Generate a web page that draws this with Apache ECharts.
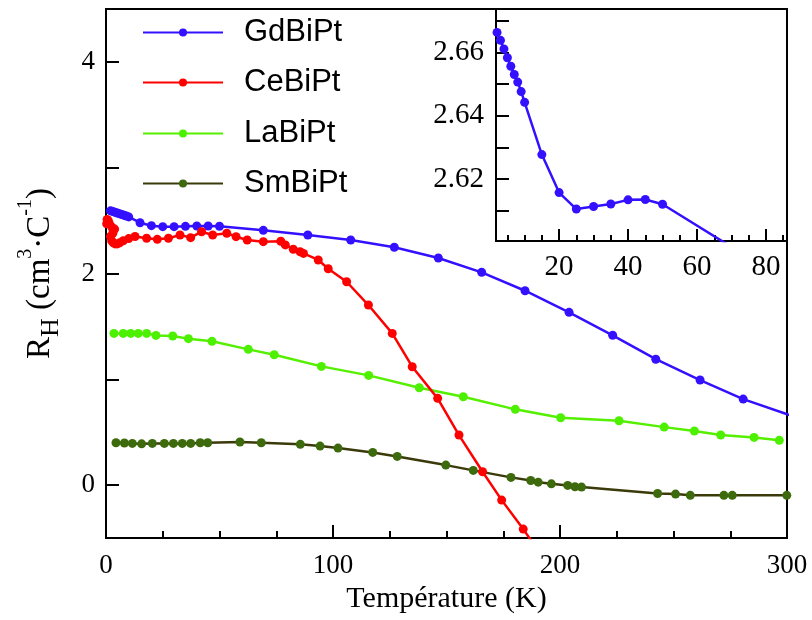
<!DOCTYPE html>
<html><head><meta charset="utf-8">
<script src="https://cdn.jsdelivr.net/npm/echarts@6/dist/echarts.min.js"></script>
<style>html,body{margin:0;padding:0;background:#fff}#c{width:812px;height:620px}</style>
</head><body><div id="c"></div>
<script>
// ---- data ----
const seriesNames = ['GdBiPt', 'CeBiPt', 'LaBiPt', 'SmBiPt'];
const gdT = [2,3,4,5,6,7,8,9,10,15,20,25,30,35,40,45,50,69.3,88.9,107.8,127,146.4,165.5,184.6,204,223.2,242.2,261.7,280.7,302];
const gdR = [2.592,2.585,2.578,2.571,2.564,2.557,2.550,2.543,2.535,2.480,2.452,2.443,2.443,2.446,2.449,2.449,2.447,2.408,2.364,2.317,2.248,2.147,2.011,1.837,1.633,1.416,1.190,0.993,0.813,0.656];
const ceT = [0.3,0.5,1.0,1.5,2.5,3.8,3.0,2.0,2.5,3.2,4.0,5,6,7.6,10,12.8,17.9,22.6,27.5,32.6,37.3,42.1,47,53.2,57.3,62.2,69.3,77,79,82.5,85.5,87,93.5,97.9,106,115.6,126.1,134.9,146.1,155.5,165.9,174.3,183.8,193];
const ceR = [2.47,2.51,2.50,2.47,2.44,2.42,2.38,2.35,2.31,2.29,2.28,2.28,2.29,2.31,2.33,2.35,2.333,2.323,2.333,2.364,2.339,2.395,2.364,2.38,2.348,2.317,2.301,2.305,2.27,2.229,2.206,2.19,2.128,2.045,1.922,1.702,1.434,1.119,0.82,0.473,0.126,-0.142,-0.416,-0.70];
const laT = [3.5,7.6,10.9,14.2,17.9,22,29.4,36.3,46.7,62.7,74.1,94.9,115.7,138,157.4,180.3,200.3,226,245.9,259.2,270.8,285.5,296.6];
const laR = [1.434,1.434,1.434,1.434,1.434,1.415,1.409,1.384,1.359,1.283,1.232,1.122,1.037,0.92,0.835,0.716,0.637,0.608,0.548,0.511,0.473,0.451,0.423];
const smT = [4.4,8.1,11.6,15.7,20.4,25.7,29.7,33.6,37.3,41.5,44.8,59,68.4,85.6,94.3,102.2,117.5,128.3,149.7,161.8,178.4,187.1,190.4,196.2,203.4,206.6,209.5,243,250.9,257.4,272.2,275.9,299.9];
const smR = [0.40,0.398,0.394,0.39,0.394,0.394,0.394,0.394,0.394,0.40,0.40,0.407,0.40,0.385,0.369,0.35,0.309,0.271,0.189,0.139,0.073,0.044,0.028,0.012,-0.003,-0.016,-0.019,-0.079,-0.085,-0.097,-0.097,-0.097,-0.097];
const insetT = [2,3,4,5,6,7,8,9,10,15,20,25,30,35,40,45,50,69.3];
const insetR = [2.6663,2.6638,2.6611,2.6583,2.6556,2.6530,2.6506,2.6476,2.6442,2.6277,2.6157,2.6105,2.6113,2.6121,2.6134,2.6135,2.6120,2.599];
const mainYTicks = [0,1,2,3,4];
const mainYLabels = [0,2,4];
const insetXMajor = [20,40,60,80];
const insetXMinor = [5,10,15,25,30,35,45,50,55,65,70,75,85];
const insetYTicks = [2.61,2.62,2.63,2.64,2.65,2.66,2.67];
const insetYLabels = [2.62,2.64,2.66];

const zip = (a, b) => a.map((v, i) => [v, b[i]]);
const colors = {GdBiPt:'#3311ff', CeBiPt:'#ff0000', LaBiPt:'#4cf000', SmBiPt:'#3d6a0c'};
const lineColors = {GdBiPt:'#3311ff', CeBiPt:'#ff0000', LaBiPt:'#55f000', SmBiPt:'#3a3a0a'};
const serif = 'Liberation Serif';
const sans = 'Liberation Sans';
const black = {color:'#000', width:2};

function mkSeries(name, data, xi, yi) {
  return {
    name, type:'line', data, xAxisIndex:xi, yAxisIndex:yi,
    symbol:'circle', symbolSize:9, clip:true,
    lineStyle:{color:lineColors[name], width:2.5},
    itemStyle:{color:colors[name]},
    emphasis:{disabled:true}, animation:false
  };
}

const chart = echarts.init(document.getElementById('c'), null, {renderer:'canvas'});
const legendTops = [17, 67, 118, 168];
chart.setOption({
  animation:false,
  backgroundColor:'#fff',
  grid:[
    {left:106, top:9, width:681, height:529, show:true, borderColor:'#000', borderWidth:2, backgroundColor:'transparent'},
    {left:496, top:9, width:291, height:232, show:true, borderColor:'#000', borderWidth:2, backgroundColor:'#fff'}
  ],
  legend: seriesNames.map((n, i) => ({
    data:[n], left:142, top:legendTops[i], orient:'vertical', padding:0,
    itemWidth:80, itemHeight:10, selectedMode:false,
    textStyle:{fontSize:31, fontFamily:sans, color:'#000', padding:[0,0,0,16], lineHeight:30}
  })),
  xAxis:[
    {gridIndex:0, type:'value', min:0, max:300, interval:100,
     axisLine:{onZero:false, lineStyle:black}, splitLine:{show:false},
     axisTick:{inside:true, length:13, lineStyle:black},
     minorTick:{show:true, splitNumber:4, length:7, lineStyle:black},
     minorSplitLine:{show:false},
     axisLabel:{fontSize:27, fontFamily:serif, color:'#000', margin:14},
     name:'Température (K)', nameLocation:'middle', nameGap:44,
     nameTextStyle:{fontSize:30, fontFamily:serif, color:'#000'}},
    {gridIndex:1, type:'value', min:1.7, max:86.1,
     axisLine:{onZero:false, lineStyle:black}, splitLine:{show:false},
     axisTick:{inside:true, length:12, lineStyle:black, customValues:insetXMajor},
     axisLabel:{fontSize:29, fontFamily:serif, color:'#000', margin:12, customValues:insetXMajor}},
    {gridIndex:1, type:'value', min:1.7, max:86.1, position:'bottom',
     axisLine:{show:false, onZero:false}, splitLine:{show:false},
     axisTick:{inside:true, length:6, lineStyle:black, customValues:insetXMinor},
     axisLabel:{show:false}}
  ],
  yAxis:[
    {gridIndex:0, type:'value', min:-0.5, max:4.5,
     axisLine:{onZero:false, lineStyle:black}, splitLine:{show:false},
     axisTick:{inside:true, length:13, lineStyle:black, customValues:mainYTicks},
     axisLabel:{fontSize:27, fontFamily:serif, color:'#000', margin:11, customValues:mainYLabels},
     name:'{n|R}{sub|H}{n| (cm}{sup|3}{n|·C}{sup|-1}{n|)}', nameLocation:'middle', nameGap:42,
     nameTextStyle:{color:'#000', rich:{
       n:{fontSize:33, fontFamily:serif, color:'#000', lineHeight:48, verticalAlign:'middle'},
       sub:{fontSize:26, fontFamily:serif, color:'#000', lineHeight:24, verticalAlign:'bottom'},
       sup:{fontSize:20, fontFamily:serif, color:'#000', lineHeight:22, verticalAlign:'top'}
     }}},
    {gridIndex:1, type:'value', min:2.6004, max:2.6737,
     axisLine:{onZero:false, lineStyle:black}, splitLine:{show:false},
     axisTick:{inside:true, length:13, lineStyle:black, customValues:insetYTicks},
     axisLabel:{fontSize:29, fontFamily:serif, color:'#000', margin:12, customValues:insetYLabels,
       formatter:v => Number(v).toFixed(2)}}
  ],
  series:[
    mkSeries('SmBiPt', zip(smT, smR), 0, 0),
    mkSeries('LaBiPt', zip(laT, laR), 0, 0),
    mkSeries('GdBiPt', zip(gdT, gdR), 0, 0),
    mkSeries('CeBiPt', zip(ceT, ceR), 0, 0),
    Object.assign(mkSeries('GdBiPt', zip(insetT, insetR), 1, 1), {name:'GdBiPt inset'})
  ]
});
</script></body></html>
